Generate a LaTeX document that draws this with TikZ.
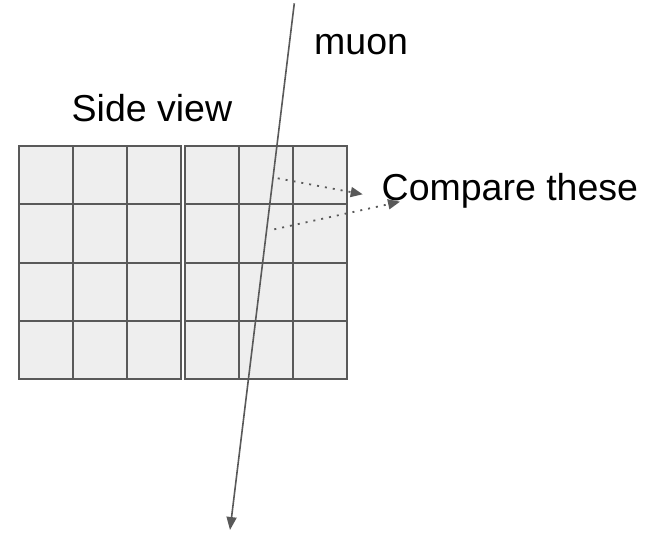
\documentclass[tikz,border=0pt]{standalone}
\usepackage{fontspec}
\setmainfont{Liberation Sans}
\usetikzlibrary{arrows.meta}
\definecolor{lnc}{HTML}{595959}
\definecolor{cellfill}{HTML}{EEEEEE}
\tikzset{
  lbl/.style={inner sep=0pt, anchor=base west, font=\fontsize{37.5}{40}\selectfont},
  cellbox/.style={draw=lnc, fill=cellfill, line width=2pt},
  muonline/.style={draw=lnc, line width=1.6pt, -{Triangle[length=13pt,width=10pt]}},
  cmpline/.style={draw=lnc, line width=1.8pt, dash pattern=on 2pt off 6pt, -{Triangle[length=12pt,width=10pt]}}
}
\begin{document}
\begin{tikzpicture}[x=1pt,y=-1pt]
\useasboundingbox (0,0) rectangle (652,532);
% grids
\foreach \x in {19,73,127}{
  \foreach \y in {146,204.25,262.5,320.75}{
    \draw[cellbox] (\x,\y) rectangle ++(54,58.25);
  }
}
\foreach \x in {184.5,238.5,292.5}{
  \foreach \y in {146,204.25,262.5,320.75}{
    \draw[cellbox] (\x,\y) rectangle ++(54,58.25);
  }
}
% labels
\node[lbl] (muon) at (314,55) {muon};
\node[lbl] (side) at (71.5,121.7) {Side view};
\node[lbl] (cmp) at (381.5,200) {Compare these};
% coordinates
\coordinate (mtop) at (294.3,3.3);
\coordinate (mbot) at (230,530);
\coordinate (c1s) at (277.7,178.3);
\coordinate (c1e) at (362.7,194.3);
\coordinate (c2s) at (274.3,229.3);
\coordinate (c2e) at (400,201.7);
% connectors
\draw[muonline] (mtop) -- (mbot);
\draw[cmpline] (c1s) -- (c1e);
\draw[cmpline] (c2s) -- (c2e);
\end{tikzpicture}
\end{document}
